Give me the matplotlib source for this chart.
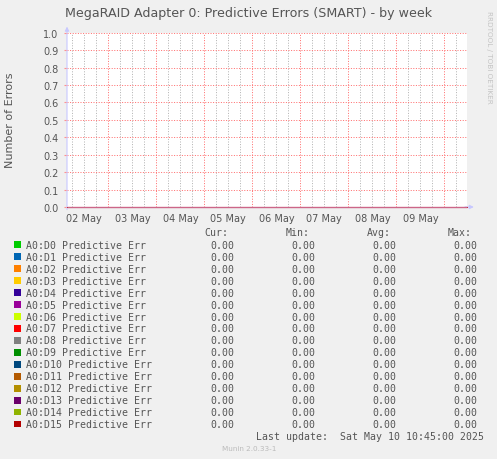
import matplotlib
matplotlib.use("Agg")
import matplotlib.pyplot as plt
import matplotlib.dates as mdates
from matplotlib.patches import Rectangle
from matplotlib.ticker import FuncFormatter, MultipleLocator
from datetime import datetime

# ---- data ----
title = "MegaRAID Adapter 0: Predictive Errors (SMART) - by week"
ylabel = "Number of Errors"
series_names = [f"A0:D{i} Predictive Err" for i in range(16)]
series_colors = ["#00cc00", "#0066b3", "#ff8000", "#ffcc00", "#330099", "#990099",
                 "#ccff00", "#ff0000", "#808080", "#008f00", "#00487d", "#b35a00",
                 "#b38f00", "#6b006b", "#8fb300", "#b30000"]
times = [datetime(2025, 5, 2, 3, 20), datetime(2025, 5, 10, 11, 20)]
series_values = [[0.0, 0.0] for _ in range(16)]
cur_vals = [0.0] * 16
min_vals = [0.0] * 16
avg_vals = [0.0] * 16
max_vals = [0.0] * 16
last_update = "Last update:  Sat May 10 10:45:00 2025"
version = "Munin 2.0.33-1"
x_start = datetime(2025, 5, 2, 3, 20)
x_end = datetime(2025, 5, 10, 11, 20)

W, H = 497, 460
BG = "#f0f0f0"
TXT = "#555555"

fig = plt.figure(figsize=(W / 100, H / 100), dpi=100, facecolor=BG)

def fx(px):
    return px / W

def fy(py):
    return 1 - py / H

ax_l, ax_r, ax_t, ax_b = 67, 467, 33.7, 208
ax = fig.add_axes([fx(ax_l), fy(ax_b), (ax_r - ax_l) / W, (ax_b - ax_t) / H])
ax.set_facecolor("white")

for name, col, vals in zip(series_names, series_colors, series_values):
    ax.plot(times, vals, color=col, lw=0.72, zorder=5, clip_on=False,
            antialiased=False, solid_capstyle="butt")
# zero-line tint as seen
ax.plot(times, series_values[-1], color="#cc6688", lw=1.0, zorder=6, clip_on=False,
        solid_capstyle="butt")

ax.set_xlim(x_start, x_end)
ax.set_ylim(0, 1.0)

ax.xaxis.set_major_locator(mdates.DayLocator())
ax.xaxis.set_minor_locator(mdates.HourLocator(byhour=[6, 12, 18]))
ax.xaxis.set_major_formatter(FuncFormatter(lambda v, p: ""))
def minor_fmt(v, p):
    d = mdates.num2date(v)
    return d.strftime("%d %b") if d.hour == 12 else ""
ax.xaxis.set_minor_formatter(FuncFormatter(minor_fmt))
ax.yaxis.set_major_locator(MultipleLocator(0.1))
ax.yaxis.set_major_formatter(FuncFormatter(lambda v, p: f"{v:.1f}"))

ax.grid(which="minor", axis="x", color="#b4b4b4", lw=0.72, linestyle=(0, (1, 1.6)))
ax.grid(which="major", axis="x", color="#ff7070", lw=0.72, linestyle=(0, (1, 1.6)))
ax.grid(which="major", axis="y", color="#ff7070", lw=0.72, linestyle=(0, (1, 1.6)))

ax.tick_params(axis="x", which="both", length=0, labelsize=7, colors=TXT, pad=4)
ax.tick_params(axis="y", which="major", length=2, color="#ff9090", labelsize=7,
               labelcolor=TXT, pad=4)
for s in ax.spines.values():
    s.set_visible(False)

# axis lines with arrows
ax.annotate("", xy=(0, 1.035), xytext=(0, -0.015), xycoords="axes fraction",
            arrowprops=dict(arrowstyle="-|>", color="#c8c8ff", lw=0.8,
                            mutation_scale=6, shrinkA=0, shrinkB=0), zorder=4)
ax.annotate("", xy=(1.017, 0), xytext=(0.995, 0), xycoords="axes fraction",
            arrowprops=dict(arrowstyle="-|>", color="#c8c8ff", lw=0.8,
                            mutation_scale=6, shrinkA=0, shrinkB=0), zorder=2)

fig.text(0.5, fy(14), title, ha="center", va="center", fontsize=9.1, color=TXT,
         family="DejaVu Sans")
fig.text(fx(10), fy(120), ylabel, ha="center", va="center", rotation=90,
         fontsize=8.0, color=TXT, family="DejaVu Sans")
fig.text(fx(489), fy(57), "RRDTOOL / TOBI OETIKER", ha="center", va="center",
         rotation=270, fontsize=5.2, color="#c4c4c4", family="DejaVu Sans")

# legend
mono = dict(family="DejaVu Sans Mono", fontsize=7.1, color=TXT, va="center")
col_x = [210, 291.7, 372.3, 453.3]
hdr_x = [204, 285.7, 366.7, 447.7]
for hx, h in zip(hdr_x, ["Cur:", "Min:", "Avg:", "Max:"]):
    fig.text(fx(hx), fy(233.3), h, ha="left", **mono)
row0, dy = 245.7, 11.97
for i, (name, col) in enumerate(zip(series_names, series_colors)):
    y = row0 + i * dy
    fig.add_artist(Rectangle((fx(14), fy(y + 3.2)), 6.5 / W, 6.5 / H,
                             transform=fig.transFigure, facecolor=col,
                             edgecolor="none"))
    fig.text(fx(26.5), fy(y), name, ha="left", **mono)
    for cx, arr in zip(col_x, [cur_vals, min_vals, avg_vals, max_vals]):
        fig.text(fx(cx), fy(y), f"{arr[i]:.2f}", ha="left", **mono)
fig.text(fx(483.5), fy(437.3), last_update, ha="right", **mono)
fig.text(fx(249), fy(449), version, ha="center", va="center", fontsize=5.2,
         color="#bbbbbb", family="DejaVu Sans")

fig.savefig("out.png", dpi=100, facecolor=BG)
